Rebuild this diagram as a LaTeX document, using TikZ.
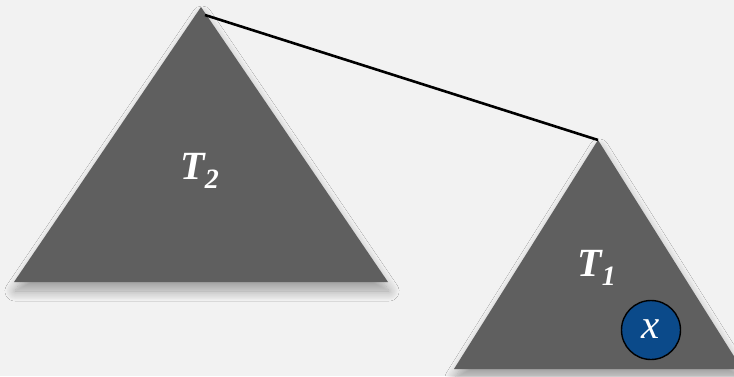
\documentclass[tikz,border=0pt]{standalone}
\usepackage{fontspec}
\setmainfont{Liberation Serif}
\usepackage{xcolor}
\usetikzlibrary{positioning,shadows.blur}
\definecolor{bgray}{HTML}{F2F2F2}
\definecolor{tgray}{HTML}{5F5F5F}
\definecolor{xblue}{HTML}{0B4A8A}

\begin{document}
\begin{tikzpicture}[
  x=1pt, y=-1pt,
  subtree/.style={fill=tgray, blur shadow={shadow xshift=1pt, shadow yshift=-9pt, shadow blur radius=10pt, shadow blur steps=16, shadow opacity=35}},
  treelabel/.style={anchor=base, inner sep=0pt, text=white, font=\fontsize{40}{40}\selectfont\bfseries\itshape},
  keynode/.style={circle, draw=black, line width=1.4pt, fill=xblue, minimum size=59pt, inner sep=0pt, text=white, font=\fontsize{41}{41}\selectfont\itshape},
  treelink/.style={line width=2.6pt, black}
]
\fill[bgray] (0,0) rectangle (734,376);
\useasboundingbox (0,0) rectangle (734,376);

% big subtree
\coordinate (t2top) at (201,7);
\fill[subtree] (t2top) -- (388,282) -- (14,282) -- cycle;
\node[treelabel] (t2) at (200,179) {T\textsubscript{2}};

% small subtree
\coordinate (t1top) at (598,140);
\fill[subtree] (t1top) -- (742,369) -- (454,369) -- cycle;
\node[treelabel] (t1) at (597,276) {T\textsubscript{1}};
\node[keynode] (x) at (651,330) {\raisebox{2pt}{x}};

\draw[treelink] (205,15) coordinate (t2end) -- (t1top);
\end{tikzpicture}
\end{document}
